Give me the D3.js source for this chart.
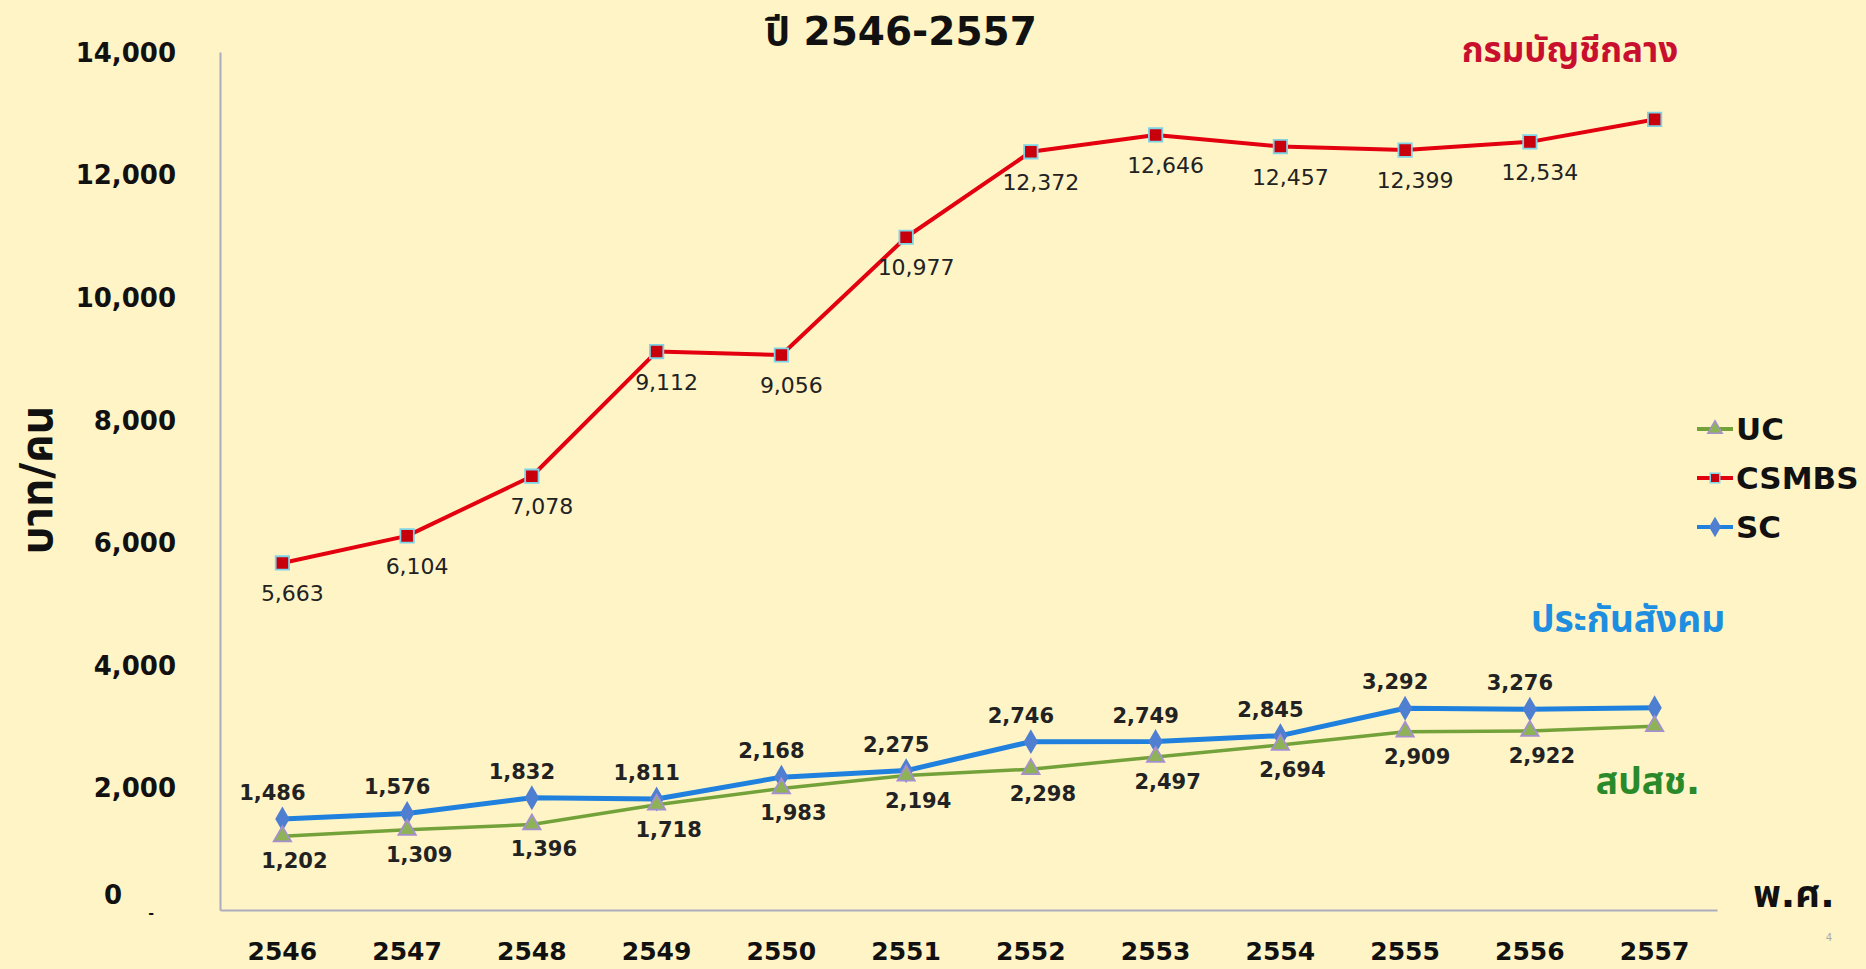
<!DOCTYPE html>
<html>
<head>
<meta charset="utf-8">
<script src="https://cdn.jsdelivr.net/npm/d3@7"></script>
<style>
  html, body { margin: 0; padding: 0; background: #fff4c6; }
  svg { display: block; }
  text { font-family: "DejaVu Sans", "Noto Sans Thai", sans-serif; }
</style>
</head>
<body>
<div id="chart"></div>
<script>
// data
var years = ["2546", "2547", "2548", "2549", "2550", "2551", "2552", "2553", "2554", "2555", "2556", "2557"]
var csmbs = [5663, 6104, 7078, 9112, 9056, 10977, 12372, 12646, 12457, 12399, 12534, 12900]
var sc = [1486, 1576, 1832, 1811, 2168, 2275, 2746, 2749, 2845, 3292, 3276, 3300]
var uc = [1202, 1309, 1396, 1718, 1983, 2194, 2298, 2497, 2694, 2909, 2922, 3000]
// last point of each series has no label in the original
var labelled = [true, true, true, true, true, true, true, true, true, true, true, false]
var yTicks = [0, 2000, 4000, 6000, 8000, 10000, 12000, 14000]

var width = 1866
var height = 969

var svg = d3.select("#chart").append("svg")
  .attr("width", width)
  .attr("height", height)

svg.append("rect")
  .attr("width", width).attr("height", height)
  .attr("fill", "#fff4c6")

var x = d3.scaleBand()
  .domain(years)
  .range([220, 1717])

var y = d3.scaleLinear()
  .domain([0, 14000])
  .range([910, 52])

var fmt = d3.format(",")

// axes
var gx = svg.append("g")
  .attr("transform", `translate(0,${y(0)})`)
  .call(d3.axisBottom(x).tickSize(0).tickPadding(32))
gx.select(".domain").attr("stroke", "#a9adbd").attr("stroke-width", 2)
gx.selectAll("text")
  .attr("font-size", 25).attr("font-weight", "bold").attr("fill", "#111")
  .attr("font-family", "DejaVu Sans")

var gy = svg.append("g")
  .attr("transform", `translate(${x.range()[0]},0)`)
  .call(d3.axisLeft(y).tickValues(yTicks).tickSize(0).tickPadding(44)
    .tickFormat(d => d === 0 ? "-" : fmt(d)))
gy.select(".domain").attr("stroke", "#a9adbd").attr("stroke-width", 2)
gy.selectAll("text")
  .attr("font-size", 26).attr("font-weight", "bold").attr("fill", "#111")
  .attr("font-family", "DejaVu Sans")
  .attr("dy", "0.36em")
gy.selectAll(".tick").filter(d => d === 0).select("text")
  .attr("font-size", 14).attr("dx", -22).attr("dy", "0.5em")

// the lone "0" sits above the dash, like in the slide
svg.append("text")
  .attr("x", 113).attr("y", y(0) - 6)
  .attr("text-anchor", "middle")
  .attr("font-size", 26).attr("font-weight", "bold").attr("fill", "#111")
  .text("0")

// y axis title
svg.append("text")
  .attr("transform", "translate(52,480) rotate(-90)")
  .attr("text-anchor", "middle")
  .attr("font-size", 44).attr("font-weight", "bold").attr("fill", "#111")
  .text("บาท/คน")

// chart title
svg.append("text")
  .attr("x", 901).attr("y", 45)
  .attr("text-anchor", "middle")
  .attr("font-size", 39).attr("font-weight", "bold").attr("fill", "#111")
  .text("ปี 2546-2557")

svg.append("text")
  .attr("x", 1794).attr("y", 907)
  .attr("text-anchor", "middle")
  .attr("font-size", 38).attr("font-weight", "bold").attr("fill", "#111")
  .text("พ.ศ.")

svg.append("text")
  .attr("x", 1829).attr("y", 941)
  .attr("text-anchor", "middle")
  .attr("font-size", 10).attr("fill", "#aaa")
  .text("4")

var cx = d => x(d) + x.bandwidth() / 2

var series = [
  {name: "UC", values: uc, line: "#74a23a", width: 3.5, marker: d3.symbolTriangle, msize: 130, fill: "#8db356", stroke: "#a58fd0", labelDy: 32, labelDx: 12, weight: "bold", size: 21},
  {name: "CSMBS", values: csmbs, line: "#e3000f", width: 4, marker: d3.symbolSquare, msize: 180, fill: "#c8000c", stroke: "#7fd3e6", labelDy: 38, labelDx: 10, weight: "normal", size: 22},
  {name: "SC", values: sc, line: "#1f80de", width: 5, marker: d3.symbolDiamond, msize: 130, fill: "#4f7fd1", stroke: "#4f7fd1", labelDy: -19, labelDx: -10, weight: "bold", size: 21}
]

var line = d3.line()
  .x((d, i) => cx(years[i]))
  .y(d => y(d))

// draw in order SC, UC, CSMBS so CSMBS and SC sit on top
;[series[2], series[0], series[1]].forEach(s => {
  var g = svg.append("g")
  g.append("path")
    .datum(s.values)
    .attr("fill", "none")
    .attr("stroke", s.line)
    .attr("stroke-width", s.width)
    .attr("stroke-linejoin", "round")
    .attr("d", line)

  g.selectAll("path.mk")
    .data(s.values)
    .join("path")
      .attr("class", "mk")
      .attr("transform", (d, i) => `translate(${cx(years[i])},${y(d)})`)
      .attr("d", d3.symbol().type(s.marker).size(s.msize))
      .attr("fill", s.fill)
      .attr("stroke", s.stroke)
      .attr("stroke-width", 1.8)
})

series.forEach(s => {
  svg.append("g")
    .selectAll("text")
    .data(s.values.filter((d, i) => labelled[i]))
    .join("text")
      .attr("x", (d, i) => cx(years[i]) + s.labelDx)
      .attr("y", d => y(d) + s.labelDy)
      .attr("text-anchor", "middle")
      .attr("font-size", s.size)
      .attr("font-weight", s.weight)
      .attr("fill", "#222")
      .text(d => fmt(d))
})

// series notes in Thai
svg.append("text")
  .attr("x", 1570).attr("y", 62)
  .attr("text-anchor", "middle")
  .attr("font-size", 35).attr("font-weight", "bold").attr("fill", "#c8102e")
  .text("กรมบัญชีกลาง")

svg.append("text")
  .attr("x", 1628).attr("y", 632)
  .attr("text-anchor", "middle")
  .attr("font-size", 37).attr("font-weight", "bold").attr("fill", "#1e8ee0")
  .text("ประกันสังคม")

svg.append("text")
  .attr("x", 1648).attr("y", 794)
  .attr("text-anchor", "middle")
  .attr("font-size", 37).attr("font-weight", "bold").attr("fill", "#2a8a2a")
  .text("สปสช.")

// legend
var legend = svg.append("g")
  .selectAll("g")
  .data(series)
  .join("g")
    .attr("transform", (d, i) => `translate(1697,${429 + i * 49})`)

legend.append("line")
  .attr("x1", 0).attr("x2", 36)
  .attr("stroke", d => d.line)
  .attr("stroke-width", 4)

legend.append("path")
  .attr("transform", "translate(18,0)")
  .attr("d", d => d3.symbol().type(d.marker).size(90)())
  .attr("fill", d => d.fill)
  .attr("stroke", d => d.stroke)
  .attr("stroke-width", 1.5)

legend.append("text")
  .attr("x", 39).attr("dy", "0.36em")
  .attr("font-size", 31).attr("font-weight", "bold").attr("fill", "#111")
  .text(d => d.name)
</script>
</body>
</html>
